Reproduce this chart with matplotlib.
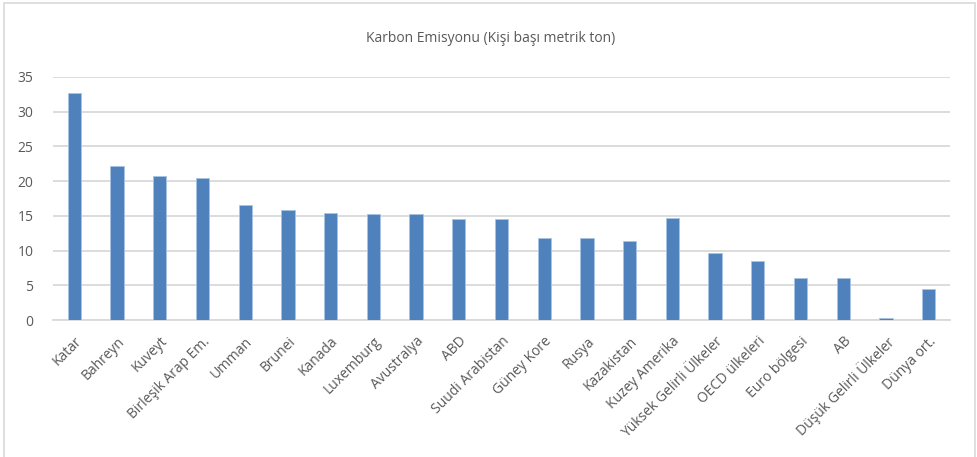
import numpy as np
import matplotlib.pyplot as plt
from matplotlib.patches import Rectangle

plt.rcParams['font.family'] = ['Open Sans', 'DejaVu Sans']

ulkeler = ['Katar', 'Bahreyn', 'Kuveyt', 'Birleşik Arap Em.', 'Umman', 'Brunei',
           'Kanada', 'Luxemburg', 'Avustralya', 'ABD', 'Suudi Arabistan',
           'Güney Kore', 'Rusya', 'Kazakistan', 'Kuzey Amerika',
           'Yüksek Gelirli Ülkeler', 'OECD ülkeleri', 'Euro bölgesi', 'AB',
           'Düşük Gelirli Ülkeler', 'Dünya ort.']
emisyon = [32.7, 22.2, 20.8, 20.4, 16.5, 15.9, 15.4, 15.2, 15.2, 14.6, 14.6,
           11.8, 11.8, 11.4, 14.75, 9.7, 8.5, 6.05, 6.05, 0.3, 4.4]
yticks = [0, 5, 10, 15, 20, 25, 30, 35]

W, H = 977, 457
fig = plt.figure(figsize=(W / 100, H / 100), dpi=100)
ax = fig.add_axes([53 / W, 1 - 320 / H, (950 - 53) / W, (320 - 77) / H])

x = np.arange(len(ulkeler))
ax.bar(x, emisyon, width=0.31, color='#4f81bd', edgecolor='#a9c4e4', linewidth=0.6, zorder=3)

ax.set_xlim(-0.5, len(ulkeler) - 0.5)
ax.set_ylim(0, 35)
ax.set_yticks(yticks)
ax.yaxis.grid(True, color='#d9d9d9', linewidth=1.3, zorder=0)
ax.set_axisbelow(True)
for s in ['top', 'right', 'left']:
    ax.spines[s].set_visible(False)
ax.spines['bottom'].set_color('#d9d9d9')
ax.spines['bottom'].set_linewidth(1.3)
ax.tick_params(axis='both', length=0, colors='#595959', labelsize=10)
ax.tick_params(axis='y', pad=14)
ax.set_xticks(x)
ax.set_xticklabels(ulkeler, rotation=45, ha='right', rotation_mode='anchor')
ax.tick_params(axis='x', pad=10)

fig.text(0.502, 1 - 38 / H, 'Karbon Emisyonu (Kişi başı metrik ton)', ha='center', va='center',
         fontsize=10, color='#595959')

# cerceve
fig.patches.append(Rectangle((4 / W, -0.05), (975 - 4) / W, 1 - 3 / H + 0.05,
                             transform=fig.transFigure, fill=False,
                             edgecolor='#d9d9d9', linewidth=1.2))

fig.savefig('out.png', dpi=100)
